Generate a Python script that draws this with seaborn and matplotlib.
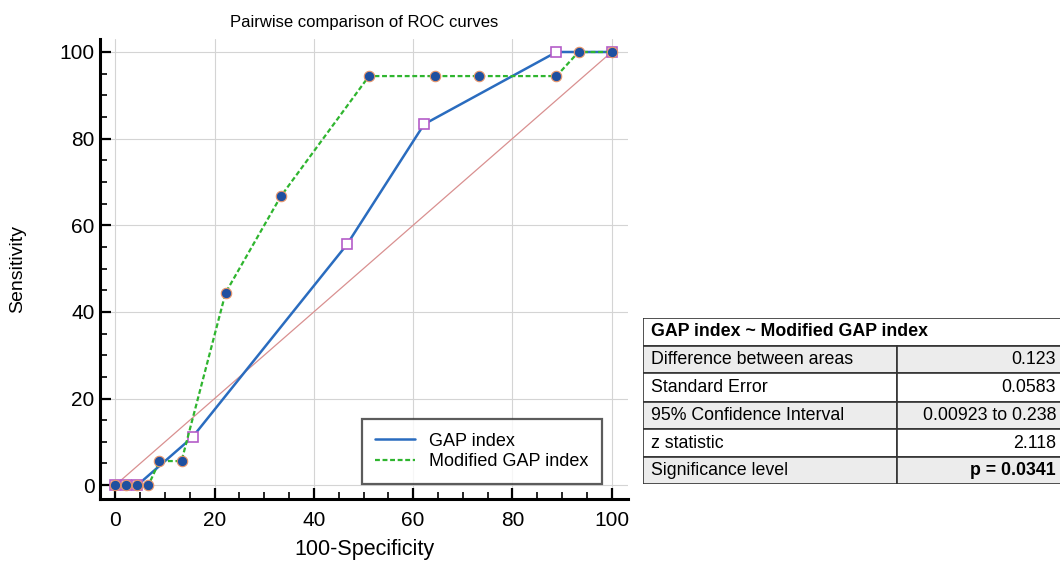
import numpy as np
import pandas as pd
import matplotlib
matplotlib.use('Agg')
import matplotlib.pyplot as plt
from matplotlib.lines import Line2D
from matplotlib.patches import Rectangle
from matplotlib.ticker import MultipleLocator
import seaborn as sns

# ── Données ROC ───────────────────────────────────────────
gap_x = [0, 2.22, 4.44, 15.56, 46.67, 62.22, 88.89, 100]
gap_y = [0, 0, 0, 11.11, 55.56, 83.33, 100, 100]

mod_x = [0, 2.22, 4.44, 6.67, 8.89, 13.33, 22.22, 33.33, 51.11, 64.44, 73.33, 88.89, 93.33, 100]
mod_y = [0, 0, 0, 0, 5.56, 5.56, 44.44, 66.67, 94.44, 94.44, 94.44, 94.44, 100, 100]

diag = [0, 100]

# ── Tableau de comparaison ────────────────────────────────
table_title = "GAP index ~ Modified GAP index"
row_labels = ["Difference between areas", "Standard Error",
              "95% Confidence Interval", "z statistic", "Significance level"]
row_values = ["0.123", "0.0583", "0.00923 to 0.238", "2.118", "p = 0.0341"]

BLUE = "#2a6cbf"
GREEN = "#2fb52f"

sns.set_theme(style="whitegrid")
plt.rcParams['font.family'] = ['Liberation Sans', 'DejaVu Sans']
plt.rcParams['text.color'] = 'black'
plt.rcParams['axes.labelcolor'] = 'black'
plt.rcParams['xtick.color'] = 'black'
plt.rcParams['ytick.color'] = 'black'

fig = plt.figure(figsize=(10.6, 5.65), dpi=100)
ax = fig.add_axes([100/1060, 66/565, 528/1060, 460/565])

df_gap = pd.DataFrame({"x": gap_x, "y": gap_y})
df_mod = pd.DataFrame({"x": mod_x, "y": mod_y})

ax.plot(diag, diag, color="#d99090", lw=0.9, zorder=2)
sns.lineplot(data=df_gap, x="x", y="y", ax=ax, color=BLUE, lw=1.8,
             marker="s", markersize=7.5, markerfacecolor="white",
             markeredgecolor="#b45cc8", markeredgewidth=1.2,
             estimator=None, zorder=3)
sns.lineplot(data=df_mod, x="x", y="y", ax=ax, color=GREEN, lw=1.6,
             linestyle=(0, (2.2, 1.2)), marker="o", markersize=7.5,
             markerfacecolor="#1f50a0", markeredgecolor="#e8956a",
             markeredgewidth=0.8, estimator=None, zorder=4)

ax.set_xlim(-3.1, 103.3)
ax.set_ylim(-3.2, 103)
ax.xaxis.set_major_locator(MultipleLocator(20))
ax.yaxis.set_major_locator(MultipleLocator(20))
ax.xaxis.set_minor_locator(MultipleLocator(5))
ax.yaxis.set_minor_locator(MultipleLocator(5))
ax.tick_params(which='major', direction='in', length=8, width=1.6,
               color='black', labelsize=15, bottom=True, left=True)
ax.tick_params(which='minor', direction='in', length=5, width=1.2,
               color='black', bottom=True, left=True)
ax.tick_params(axis='x', which='major', pad=9)
ax.tick_params(axis='y', which='major', pad=4)
ax.grid(True, which='major', color='#d4d4d4', lw=0.8)
ax.grid(False, which='minor')
ax.set_facecolor('white')
for side in ['top', 'right']:
    ax.spines[side].set_visible(False)
for side in ['left', 'bottom']:
    ax.spines[side].set_color('black')
    ax.spines[side].set_linewidth(2.2)

ax.set_xlabel("100-Specificity", fontsize=15.5, labelpad=6)
ax.set_ylabel("Sensitivity", fontsize=14, labelpad=24)
ax.set_title("Pairwise comparison of ROC curves", fontsize=12, pad=9)

handles = [Line2D([], [], color=BLUE, lw=1.8),
           Line2D([], [], color=GREEN, lw=1.6, linestyle=(0, (2.2, 1.2)))]
leg = ax.legend(handles, ["GAP index", "Modified GAP index"],
                loc='lower right', bbox_to_anchor=(0.958, 0.025),
                fontsize=13, frameon=True, fancybox=False, handlelength=2.2,
                borderpad=0.75, labelspacing=0.2, handletextpad=0.8,
                borderaxespad=0.2)
leg.get_frame().set_edgecolor('#333333')
leg.get_frame().set_linewidth(1.6)

# ── Tableau ───────────────────────────────────────────────
tax = fig.add_axes([643/1060, 81/565, 420/1060, 166/565])
tax.set_xlim(0, 420)
tax.set_ylim(166, 0)
tax.axis('off')

row_edges = [0, 28, 55, 84, 111, 139, 166]
col_split = 254
tax.add_patch(Rectangle((0, 0), 420, 28, facecolor='white',
                        edgecolor='#333333', lw=1.2))
tax.text(8, 14, table_title, fontsize=12.8, fontweight='bold', va='center')
for i, (lab, val) in enumerate(zip(row_labels, row_values)):
    y0, y1 = row_edges[i + 1], row_edges[i + 2]
    fc = '#ececec' if i % 2 == 0 else 'white'
    tax.add_patch(Rectangle((0, y0), col_split, y1 - y0, facecolor=fc,
                            edgecolor='#333333', lw=1.2))
    tax.add_patch(Rectangle((col_split, y0), 420 - col_split, y1 - y0,
                            facecolor=fc, edgecolor='#333333', lw=1.2))
    tax.text(8, (y0 + y1) / 2, lab, fontsize=12.8, va='center')
    tax.text(413, (y0 + y1) / 2, val, fontsize=12.8, va='center', ha='right',
             fontweight='bold' if i == len(row_labels) - 1 else 'normal')

fig.savefig("out.png", dpi=100, facecolor='white')
